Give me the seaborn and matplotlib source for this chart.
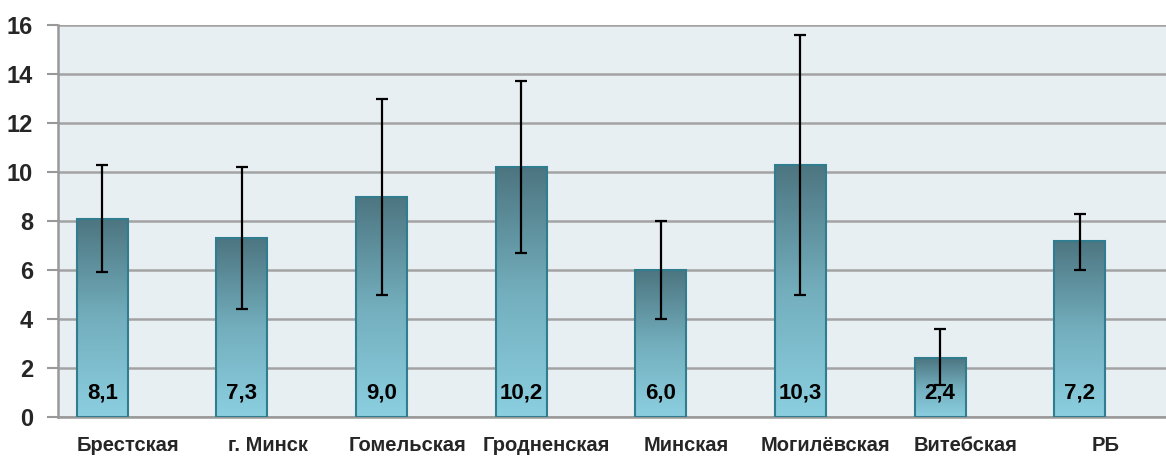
import numpy as np
import pandas as pd
import matplotlib
matplotlib.use("Agg")
import matplotlib.pyplot as plt
from matplotlib.colors import LinearSegmentedColormap
from matplotlib.ticker import FixedLocator
import seaborn as sns

categories = ["Брестская", "г. Минск", "Гомельская", "Гродненская", "Минская",
              "Могилёвская", "Витебская", "РБ"]
values = [8.1, 7.3, 9.0, 10.2, 6.0, 10.3, 2.4, 7.2]
err_high = [10.3, 10.2, 13.0, 13.7, 8.0, 15.6, 3.6, 8.3]
err_low = [5.9, 4.4, 5.0, 6.7, 4.0, 5.0, 1.3, 6.0]
value_labels = ["8,1", "7,3", "9,0", "10,2", "6,0", "10,3", "2,4", "7,2"]
y_ticks = [0, 2, 4, 6, 8, 10, 12, 14, 16]

sns.set_theme(style="white")
plt.rcParams['font.family'] = ['Liberation Sans Narrow', 'Liberation Sans', 'DejaVu Sans']
plt.rcParams['font.weight'] = 'bold'

df = pd.DataFrame({
    "cat": categories * 2,
    "val": values + [np.nan] * len(values),
    "series": ["main"] * len(values) + ["blank"] * len(values),
})

fig = plt.figure(figsize=(11.66, 4.59), dpi=100)
ax = fig.add_axes([58 / 1166, 1 - 417 / 459, 1117 / 1166, 392 / 459])
ax.set_facecolor("#e8eff3")

sns.barplot(data=df, x="cat", y="val", hue="series", hue_order=["main", "blank"],
            order=categories, dodge=True, width=0.73, errorbar=None, legend=False,
            ax=ax, zorder=3)

cmap = LinearSegmentedColormap.from_list("bar", ["#8bcfe0", "#73aebd", "#4c7580"])
grad = np.linspace(0, 1, 256).reshape(-1, 1)

bars = [p for p in ax.patches if np.isfinite(p.get_height()) and p.get_height() > 0]
centers = []
for p in bars:
    x0, w, h = p.get_x(), p.get_width(), p.get_height()
    centers.append(x0 + w / 2)
    p.set_facecolor("none")
    p.set_edgecolor("#2f7d8e")
    p.set_linewidth(1.5)
    p.set_zorder(4)
    im = ax.imshow(grad, extent=[x0, x0 + w, 0, h], origin="lower", cmap=cmap,
                   aspect="auto", zorder=3, interpolation="bicubic")
    im.set_clip_path(p)

ax.set_xlim(-0.5, len(categories) - 0.5)
ax.set_ylim(0, 16)

centers = np.array(centers)
vals = np.array(values)
yerr = np.vstack([vals - np.array(err_low), np.array(err_high) - vals])
ax.errorbar(centers, vals, yerr=yerr, fmt="none", ecolor="black", elinewidth=1.6,
            capsize=4.5, capthick=1.6, zorder=6)

for cx, lab in zip(centers, value_labels):
    ax.text(cx, 1.0, lab, ha="center", va="center", fontsize=16, fontweight="bold",
            color="black", zorder=7)

ax.yaxis.set_major_locator(FixedLocator(y_ticks))
ax.set_yticklabels([str(t) for t in y_ticks], fontsize=17, fontweight="bold")
ax.grid(axis="y", color="#a3a3a3", linewidth=1.8, zorder=1)
ax.set_axisbelow(True)

ax.set_xticks(range(len(categories)))
ax.set_xticklabels(categories, fontsize=14.5, fontweight="bold")
ax.xaxis.set_minor_locator(FixedLocator(np.arange(-0.5, len(categories), 1.0)))
ax.tick_params(axis="x", which="major", length=0, pad=14)
ax.tick_params(axis="x", which="minor", length=7, width=1.5, color="#999999", direction="out")
ax.tick_params(axis="y", which="major", length=8, width=1.5, color="#999999",
               direction="out", pad=10, left=True)

for s in ["top", "right"]:
    ax.spines[s].set_visible(False)
for s in ["left", "bottom"]:
    ax.spines[s].set_color("#999999")
    ax.spines[s].set_linewidth(1.8)

ax.set_xlabel("")
ax.set_ylabel("")

fig.savefig("out.png", dpi=100)
